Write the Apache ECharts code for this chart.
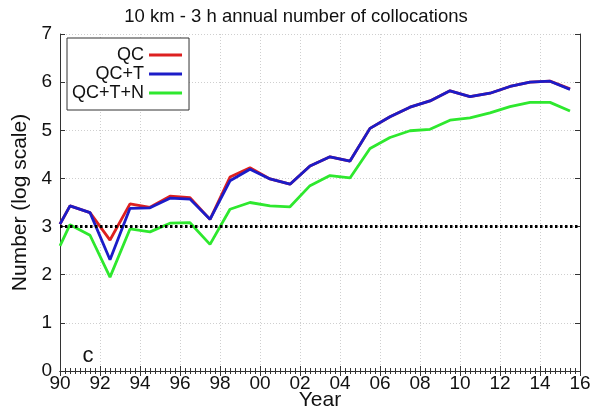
<!DOCTYPE html>
<html>
<head>
<meta charset="utf-8">
<script src="https://cdn.jsdelivr.net/npm/echarts@6/dist/echarts.min.js"></script>
<style>
  html, body { margin: 0; padding: 0; background: #fff; }
  #chart { width: 591px; height: 409px; }
</style>
</head>
<body>
<div id="chart"></div>
<script>
// Years since 1900 (mid-year points after the 1990 start)
const years = [90, 90.5, 91.5, 92.5, 93.5, 94.5, 95.5, 96.5, 97.5, 98.5, 99.5,
  100.5, 101.5, 102.5, 103.5, 104.5, 105.5, 106.5, 107.5, 108.5, 109.5,
  110.5, 111.5, 112.5, 113.5, 114.5, 115.5];

// log10 of the annual number of collocations
const qc = [3.05, 3.43, 3.29, 2.72, 3.47, 3.40, 3.63, 3.60, 3.15, 4.03, 4.22,
  3.99, 3.88, 4.26, 4.45, 4.36, 5.04, 5.28, 5.48, 5.61, 5.82,
  5.70, 5.77, 5.91, 6.00, 6.02, 5.86];
const qcT = [3.05, 3.43, 3.29, 2.31, 3.38, 3.39, 3.59, 3.57, 3.15, 3.95, 4.19,
  3.99, 3.88, 4.26, 4.45, 4.36, 5.04, 5.28, 5.48, 5.61, 5.82,
  5.70, 5.77, 5.91, 6.00, 6.02, 5.85];
const qcTN = [2.60, 3.04, 2.82, 1.95, 2.95, 2.89, 3.07, 3.08, 2.63, 3.36, 3.50,
  3.43, 3.41, 3.85, 4.06, 4.01, 4.62, 4.85, 4.99, 5.02, 5.21,
  5.26, 5.36, 5.49, 5.58, 5.58, 5.40];

const seriesNames = ['QC', 'QC+T', 'QC+T+N'];
const referenceLevel = 3;

const FONT = 'Liberation Sans, Arial, sans-serif';
const pair = (ys) => years.map((x, i) => [x, ys[i]]);
const yearLabel = (v) => String(Math.round(v) % 100).padStart(2, '0');

const chart = echarts.init(document.getElementById('chart'), null, { renderer: 'canvas' });

const axisLine = { show: true, lineStyle: { color: '#333', width: 1 } };
const gridLine = { show: true, lineStyle: { color: '#cfcfcf', type: [1, 2], width: 1 } };
const majorTick = { show: true, inside: true, length: 5, lineStyle: { color: '#333' } };
const minorTick = { show: true, splitNumber: 8, length: 3, lineStyle: { color: '#333' } };

chart.setOption({
  animation: false,
  backgroundColor: '#fff',
  title: {
    text: '10 km - 3 h annual number of collocations',
    left: 291, top: 2, textAlign: 'center',
    textStyle: { fontFamily: FONT, fontSize: 18.5, fontWeight: 'normal', color: '#111' }
  },
  grid: { left: 60, right: 11, top: 34, bottom: 38, outerBoundsMode: 'none', containLabel: false },
  legend: {
    data: seriesNames,
    orient: 'vertical',
    left: 67, top: 38,
    align: 'right',
    icon: 'path://M0,0L33,0L33,3L0,3Z',
    padding: [8, 7, 8, 5],
    itemGap: 1,
    itemWidth: 33,
    itemHeight: 3,
    borderColor: '#333',
    borderWidth: 1,
    borderRadius: 0,
    backgroundColor: '#fff',
    textStyle: { fontFamily: FONT, fontSize: 18, color: '#111', width: 73, align: 'right' }
  },
  xAxis: [{
    type: 'value', min: 90, max: 116, interval: 2,
    name: 'Year', nameLocation: 'middle', nameGap: 19, nameMoveOverlap: false,
    nameTextStyle: { fontFamily: FONT, fontSize: 21, color: '#111' },
    axisLine: axisLine,
    axisTick: majorTick,
    minorTick: minorTick,
    axisLabel: { fontFamily: FONT, fontSize: 19, color: '#111', margin: 3, formatter: yearLabel },
    splitLine: gridLine
  }, {
    type: 'value', min: 90, max: 116, interval: 2, position: 'top',
    axisLine: axisLine,
    axisTick: majorTick,
    minorTick: minorTick,
    axisLabel: { show: false },
    splitLine: { show: false }
  }],
  yAxis: [{
    type: 'value', min: 0, max: 7, interval: 1,
    name: 'Number (log scale)', nameLocation: 'middle', nameGap: 29, nameMoveOverlap: false,
    nameTextStyle: { fontFamily: FONT, fontSize: 21, color: '#111' },
    axisLine: axisLine,
    axisTick: majorTick,
    axisLabel: { fontFamily: FONT, fontSize: 19, color: '#111', margin: 8 },
    splitLine: gridLine
  }, {
    type: 'value', min: 0, max: 7, interval: 1, position: 'right',
    axisLine: axisLine,
    axisTick: majorTick,
    axisLabel: { show: false },
    splitLine: { show: false }
  }],
  series: [{
    name: seriesNames[0], type: 'line', data: pair(qc),
    symbol: 'none', color: '#dd2020',
    lineStyle: { width: 2.8, color: '#dd2020' }, z: 2,
    markLine: {
      silent: true, symbol: 'none', label: { show: false },
      lineStyle: { color: '#000', type: [2.5, 2.5], width: 3 },
      data: [{ yAxis: referenceLevel }]
    }
  }, {
    name: seriesNames[1], type: 'line', data: pair(qcT),
    symbol: 'none', color: '#1c1cc8',
    lineStyle: { width: 2.8, color: '#1c1cc8' }, z: 3
  }, {
    name: seriesNames[2], type: 'line', data: pair(qcTN),
    symbol: 'none', color: '#2ee82e',
    lineStyle: { width: 2.8, color: '#2ee82e' }, z: 3
  }],
  graphic: [{
    type: 'text', x: 88, y: 356,
    style: { text: 'c', fontFamily: FONT, fontSize: 22, fill: '#111', align: 'center', verticalAlign: 'middle' }
  }]
});
</script>
</body>
</html>
